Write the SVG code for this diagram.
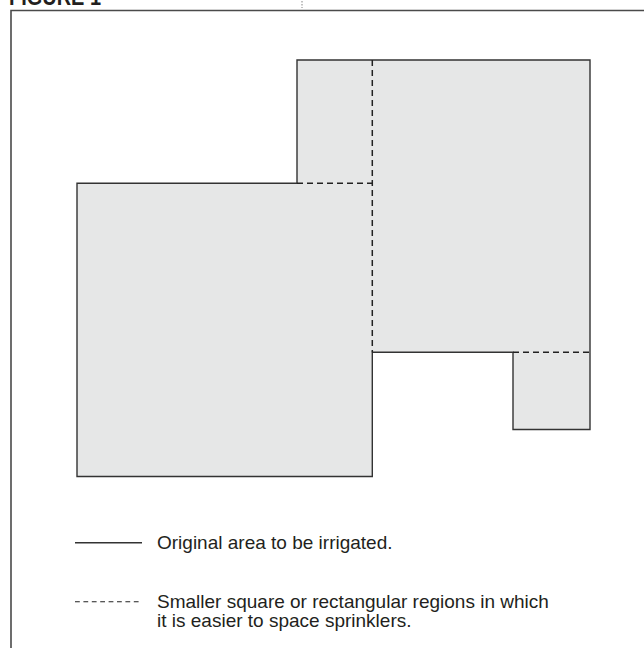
<svg xmlns="http://www.w3.org/2000/svg" width="644" height="648" viewBox="0 0 644 648">
<style>
.frame{fill:none;stroke:#4a4a4a;stroke-width:1.6}
.area{fill:#e6e7e7;stroke:#333;stroke-width:1.4;stroke-linejoin:miter}
.dash{fill:none;stroke:#222;stroke-width:1.5;stroke-dasharray:6 4}
.solid{fill:none;stroke:#333;stroke-width:1.4}
.lbl{font-family:"Liberation Sans",Arial,sans-serif;font-size:19px;fill:#231f20}
.title{font-family:"Liberation Sans Narrow","Liberation Sans",Arial,sans-serif;font-size:24px;font-weight:bold;fill:#231f20}
</style>
<rect width="644" height="648" fill="#fff"/>
<text class="title" x="9" y="5" textLength="92" lengthAdjust="spacingAndGlyphs">FIGURE 1</text>
<line x1="302" y1="1" x2="302" y2="8" stroke="#666" stroke-width="0.8" stroke-dasharray="1.5 1.5"/>
<path class="frame" d="M11 648 V10.5 H644"/>
<g id="area">
<path class="area" d="M77 183.3 H297 V60 H590 V429.5 H513 V352.3 H372.3 V476.5 H77 Z"/>
</g>
<g id="connectors">
<path class="dash" d="M372.3 60 V352.3"/>
<path class="dash" d="M297 183.3 H372.3"/>
<path class="dash" d="M513 352.3 H590"/>
</g>
<g id="legend">
<line class="solid" x1="75" y1="542.7" x2="142" y2="542.7"/>
<text class="lbl" x="157" y="548.5">Original area to be irrigated.</text>
<line class="dash" x1="75" y1="601.7" x2="142" y2="601.7" style="stroke-dasharray:4.8 3.6;stroke-width:1.1"/>
<text class="lbl" x="157" y="607.5">Smaller square or rectangular regions in which</text>
<text class="lbl" x="157" y="627">it is easier to space sprinklers.</text>
</g>
</svg>
